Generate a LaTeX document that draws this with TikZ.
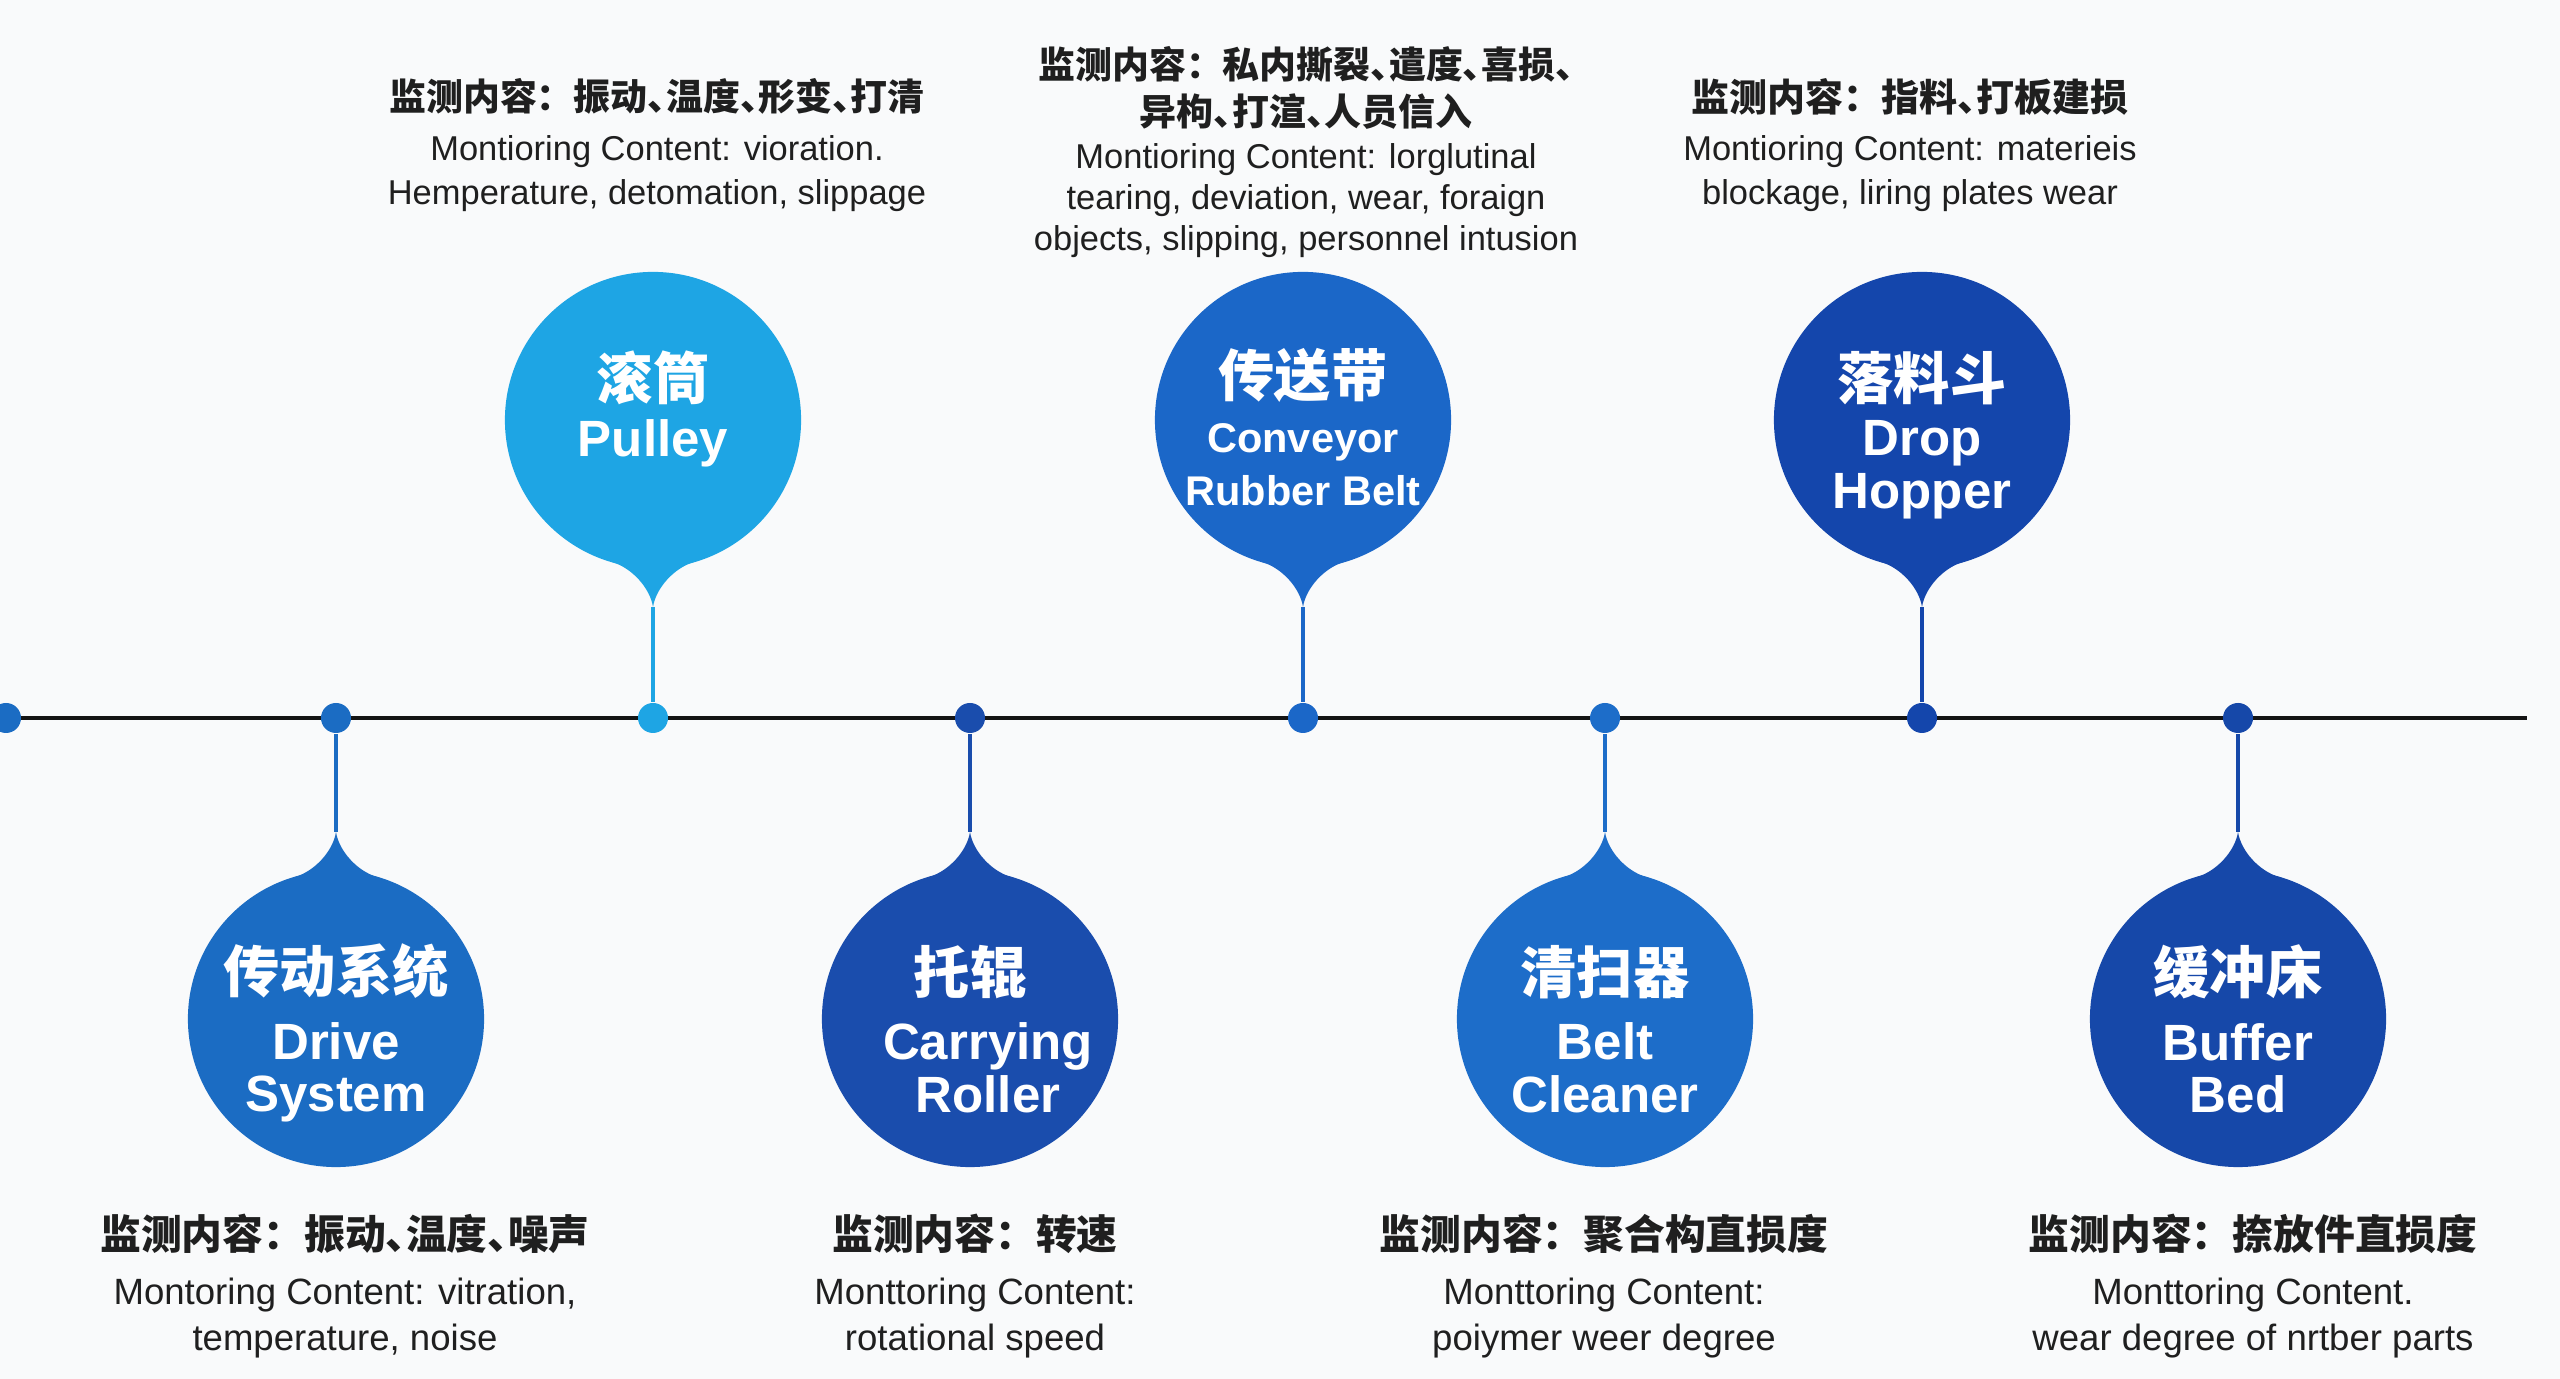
\documentclass[tikz,border=0pt]{standalone}
\usepackage{fontspec}
\setmainfont{Liberation Sans}
\newfontfamily\zh{Noto Sans CJK SC}
\newfontfamily\zhd{Noto Sans CJK SC}[RawFeature=+halt]
\definecolor{bgpaper}{HTML}{F9FAFB}
\definecolor{cPulley}{HTML}{1EA5E4}
\definecolor{cDrive}{HTML}{1B6CC3}
\definecolor{cRoller}{HTML}{1A4DAD}
\definecolor{cBelt}{HTML}{1B67C8}
\definecolor{cCleaner}{HTML}{1D6DC9}
\definecolor{cHopper}{HTML}{1446AC}
\definecolor{cBuffer}{HTML}{1648A9}
\begin{document}
\begin{tikzpicture}[x=0.01cm, y=0.01cm,
    bubble/.style={circle, minimum size=2.96cm, inner sep=0pt},
    bubtext/.style={text=white, align=center, font=\bfseries\fontsize{14.5}{15}\selectfont},
    tldot/.style={circle, minimum size=0.3cm, inner sep=0pt},
    stem/.style={line width=0.9pt},
    desc/.style={align=center, text=black!88, font=\fontsize{9.8}{12.5}\selectfont},
    descb/.style={desc, font=\fontsize{10.4}{13}\selectfont}]

    \fill[bgpaper] (0,0) rectangle (2560,1379);
    \useasboundingbox (0,0) rectangle (2560,1379);

    % timeline
    \draw[line width=1.2pt, black!92] (0,661) -- (2527,661);

    \node[tldot, fill=cDrive]   (start-dot)   at (6,661) {};
    \node[tldot, fill=cDrive]   (drive-dot)   at (336,661) {};
    \node[tldot, fill=cPulley]  (pulley-dot)  at (653,661) {};
    \node[tldot, fill=cRoller]  (roller-dot)  at (970,661) {};
    \node[tldot, fill=cBelt]    (belt-dot)    at (1303,661) {};
    \node[tldot, fill=cCleaner] (cleaner-dot) at (1605,661) {};
    \node[tldot, fill=cHopper]  (hopper-dot)  at (1922,661) {};
    \node[tldot, fill=cBuffer]  (buffer-dot)  at (2238,661) {};

    % balloons
    \node[bubble, fill=cPulley]  (pulley)  at (653,959) {};
    \node[bubble, fill=cBelt]    (belt)    at (1303,959) {};
    \node[bubble, fill=cHopper]  (hopper)  at (1922,959) {};
    \node[bubble, fill=cDrive]   (drive)   at (336,360) {};
    \node[bubble, fill=cRoller]  (roller)  at (970,360) {};
    \node[bubble, fill=cCleaner] (cleaner) at (1605,360) {};
    \node[bubble, fill=cBuffer]  (buffer)  at (2238,360) {};

    % tips and stems
    \foreach \n/\r/\c in {pulley/0/cPulley, belt/0/cBelt, hopper/0/cHopper,
        drive/180/cDrive, roller/180/cRoller, cleaner/180/cCleaner, buffer/180/cBuffer}{
      \begin{scope}[shift={(\n.center)}, rotate=\r]
        \fill[\c] (-41,-142) .. controls (-21,-148) and (-3,-168) .. (0,-187)
            .. controls (3,-168) and (21,-148) .. (41,-142) -- cycle;
        \coordinate (\n-tip) at (0,-187);
      \end{scope}
      \draw[stem, \c] (\n-tip) -- (\n-dot);
    }

    % names in the balloons
    \node[bubtext] (pulley-name) at ([yshift=-0.10cm]pulley.center)
        {{\zh\fontsize{16}{16}\selectfont 滚筒}\\[1pt]Pulley\\\phantom{P}};
    \node[bubtext] (belt-name) at ([yshift=-0.07cm]belt.center)
        {{\zh\fontsize{16}{16}\selectfont 传送带}\\[1pt]
         {\fontsize{11.8}{15}\selectfont Conveyor}\\{\fontsize{11.8}{15}\selectfont Rubber Belt}};
    \node[bubtext] (hopper-name) at ([yshift=-0.15cm]hopper.center)
        {{\zh\fontsize{16}{16}\selectfont 落料斗}\\[1pt]Drop\\Hopper};
    \node[bubtext] (drive-name) at ([yshift=-0.14cm]drive.center)
        {{\zh\fontsize{16}{16}\selectfont 传动系统}\\[4pt]Drive\\System};
    \node[bubtext] (roller-name) at ([yshift=-0.10cm]roller.center)
        {{\zh\fontsize{16}{16}\selectfont 托辊}\\[4pt]\hspace*{0.36cm}Carrying\\\hspace*{0.36cm}Roller};
    \node[bubtext] (cleaner-name) at ([yshift=-0.10cm]cleaner.center)
        {{\zh\fontsize{16}{16}\selectfont 清扫器}\\[4pt]Belt\\Cleaner};
    \node[bubtext] (buffer-name) at ([yshift=-0.10cm]buffer.center)
        {{\zh\fontsize{16}{16}\selectfont 缓冲床}\\[4pt]Buffer\\Bed};

    % monitoring content
    \node[desc] (pulley-txt) at (657,1234)
        {{\zhd\bfseries\fontsize{10.5}{12}\selectfont 监测内容：\hspace{0.5em}振动、温度、形变、打清}\\[1.5pt]
         Montioring Content: vioration.\\Hemperature, detomation, slippage};
    \node[desc, font=\fontsize{9.8}{11.7}\selectfont] (belt-txt) at (1306,1227)
        {{\zhd\bfseries\fontsize{10.5}{12}\selectfont 监测内容：\hspace{0.5em}私内撕裂、遣度、喜损、}\\[1.7pt]
         {\zhd\bfseries\fontsize{10.5}{12}\selectfont 异枸、打渲、人员信入}\\[0.5pt]
         Montioring Content: lorglutinal\\tearing, deviation, wear, foraign\\
         objects, slipping, personnel intusion};
    \node[desc] (hopper-txt) at (1910,1234)
        {{\zhd\bfseries\fontsize{10.8}{12}\selectfont 监测内容：\hspace{0.5em}指料、打板建损}\\[1.5pt]
         Montioring Content: materieis\\blockage, liring plates wear};

    \node[descb] (drive-txt) at (345,93)
        {{\zhd\bfseries\fontsize{11.6}{13}\selectfont 监测内容：\hspace{0.5em}振动、温度、噪声}\\[2.5pt]
         Montoring Content: vitration,\\temperature, noise};
    \node[descb] (roller-txt) at (975,93)
        {{\zhd\bfseries\fontsize{11.6}{13}\selectfont 监测内容：\hspace{0.5em}转速}\\[2.5pt]
         Monttoring Content:\\rotational speed};
    \node[descb] (cleaner-txt) at (1604,93)
        {{\zhd\bfseries\fontsize{11.6}{13}\selectfont 监测内容：\hspace{0.5em}聚合构直损度}\\[2.5pt]
         Monttoring Content:\\poiymer weer degree};
    \node[descb] (buffer-txt) at (2253,93)
        {{\zhd\bfseries\fontsize{11.6}{13}\selectfont 监测内容：\hspace{0.5em}捺放件直损度}\\[2.5pt]
         Monttoring Content.\\wear degree of nrtber parts};
\end{tikzpicture}
\end{document}
